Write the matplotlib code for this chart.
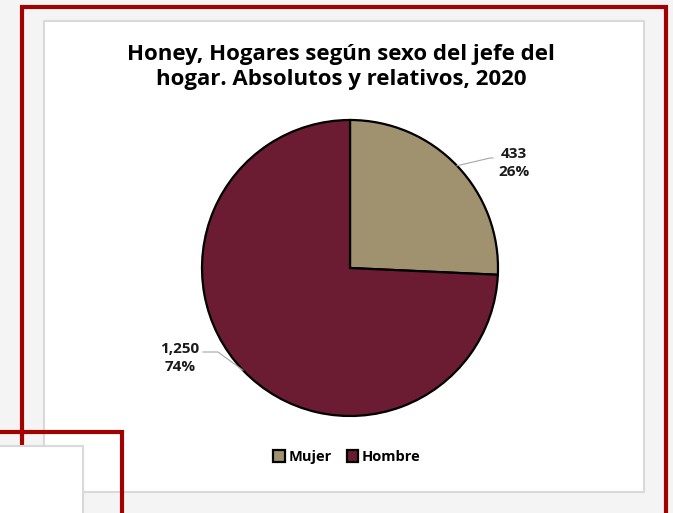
import matplotlib
matplotlib.use("Agg")
import matplotlib.pyplot as plt
from matplotlib.patches import Rectangle
import numpy as np

labels = ["Mujer", "Hombre"]
values = [433, 1250]
colors = ["#A0926E", "#6B1C32"]
title = "Honey, Hogares según sexo del jefe del\nhogar. Absolutos y relativos, 2020"

plt.rcParams["font.family"] = ["Open Sans", "DejaVu Sans"]

W, H = 673, 513
fig = plt.figure(figsize=(W / 100, H / 100), dpi=100)
fig.patch.set_facecolor("#F5F4F4")

# background frame, in pixel coords
bg = fig.add_axes([0, 0, 1, 1])
bg.set_xlim(0, W)
bg.set_ylim(H, 0)
bg.axis("off")
red = "#A30000"
bg.add_patch(Rectangle((44, 21), 600, 471, facecolor="white", edgecolor="#D9D9D9", lw=1.5, zorder=1))
bg.plot([22, 22, 666, 666], [446, 7, 7, 520], color=red, lw=3, solid_joinstyle="miter", zorder=2)
bg.add_patch(Rectangle((-5, 446), 88, 80, facecolor="white", edgecolor="#D9D9D9", lw=1.5, zorder=3))
bg.plot([-5, 122, 122], [432, 432, 520], color=red, lw=3, solid_joinstyle="miter", zorder=4)

bg.text(341, 67, title, ha="center", va="center", fontsize=16, fontweight="bold",
        linespacing=1.2, zorder=5)

# pie
cx, cy, r = 350, 268, 148
ax = fig.add_axes([(cx - r) / W, (H - cy - r) / H, 2 * r / W, 2 * r / H])
wedges, _ = ax.pie(values, colors=colors, startangle=90, counterclock=False,
                   wedgeprops=dict(edgecolor="black", linewidth=1.6))
ax.set_xlim(-1, 1)
ax.set_ylim(-1, 1)
ax.set_aspect("equal")


def px(x, y):
    return (x - cx) / r, (cy - y) / r


total = sum(values)
label_pos = [(514, 163), (180, 358)]
elbows = [[(490, 158), (493, 158)], [(218, 352), (203, 352)]]
for w, v, pos, elb in zip(wedges, values, label_pos, elbows):
    mid = np.deg2rad((w.theta1 + w.theta2) / 2)
    pts = [(np.cos(mid), np.sin(mid))] + [px(*p) for p in elb]
    xs, ys = zip(*pts)
    ax.plot(xs, ys, color="#A6A6A6", lw=0.8, clip_on=False)
    ax.text(*px(*pos), f"{v:,}\n{v / total:.0%}", ha="center", va="center",
            fontsize=11, fontweight="bold", linespacing=1.45, color="#1A1A1A")

leg = fig.legend(wedges, labels, loc="center", bbox_to_anchor=(347 / W, 1 - 457 / H),
                 ncol=2, frameon=False, handlelength=0.8, handleheight=0.8,
                 handletextpad=0.25, columnspacing=1.0,
                 prop=dict(weight="bold", size=10.5))

fig.savefig("out.png", dpi=100, facecolor=fig.get_facecolor())
